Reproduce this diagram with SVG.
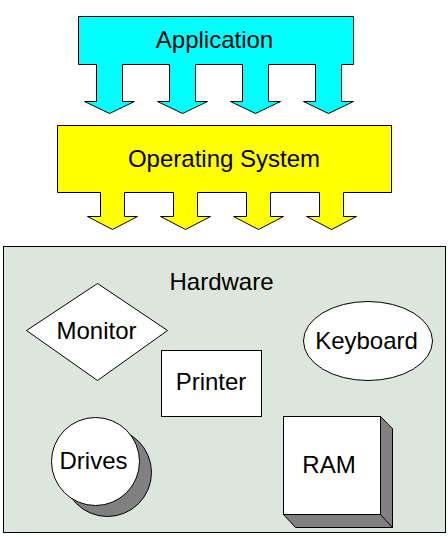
<svg xmlns="http://www.w3.org/2000/svg" width="448" height="537" viewBox="0 0 448 537">
<style>
.o{stroke:#000;stroke-width:1;}
.t{font-family:"Liberation Sans",Arial,sans-serif;font-size:24px;fill:#000;text-anchor:middle;}
</style>
<rect width="448" height="537" fill="#fff"/>
<g transform="translate(0.5,0.5)">
<g id="application">
<path class="o" fill="#00ffff" d="M78,16 H353 V64 H341 V101 H353 L328,113 L303,101 H315 V64 H268 V101 H280 L255,113 L230,101 H242 V64 H195 V101 H207 L182,113 L157,101 H169 V64 H122 V101 H134 L109,113 L84,101 H96 V64 H78 Z"/>
<text class="t" x="214" y="47">Application</text>
</g>
<g id="os">
<path class="o" fill="#ffff00" d="M57,125 H391 V192 H343 V216 H356 L331,229 L306,216 H319 V192 H270 V216 H283 L258,229 L233,216 H246 V192 H197 V216 H210 L185,229 L160,216 H173 V192 H124 V216 H137 L112,229 L87,216 H100 V192 H57 Z"/>
<text class="t" x="223.5" y="166">Operating System</text>
</g>
<g id="hardware">
<rect class="o" x="3" y="246" width="442" height="286" fill="#dde6dc"/>
<text class="t" x="221" y="289">Hardware</text>
</g>
<g id="monitor">
<polygon class="o" fill="#fff" points="26,330 97,283 167,330 97,380"/>
<text class="t" x="96" y="338">Monitor</text>
</g>
<g id="printer">
<rect class="o" fill="#fff" x="161" y="350" width="100" height="66"/>
<text class="t" x="210.5" y="389">Printer</text>
</g>
<g id="keyboard">
<ellipse class="o" fill="#fff" cx="367.5" cy="340.5" rx="64.5" ry="39.5"/>
<text class="t" x="366" y="348">Keyboard</text>
</g>
<g id="drives">
<circle class="o" fill="#808080" cx="107" cy="472" r="44"/>
<circle class="o" fill="#fff" cx="95" cy="461" r="44"/>
<text class="t" x="93" y="468">Drives</text>
</g>
<g id="ram">
<polygon class="o" fill="#808080" points="380,416 392,428 392,527 295,527 283,514 380,514"/>
<line class="o" x1="380" y1="514" x2="392" y2="527"/>
<rect class="o" fill="#fff" x="283" y="416" width="97" height="98"/>
<text class="t" x="328.5" y="472">RAM</text>
</g>
<g id="connectors"></g>
</g>
</svg>
